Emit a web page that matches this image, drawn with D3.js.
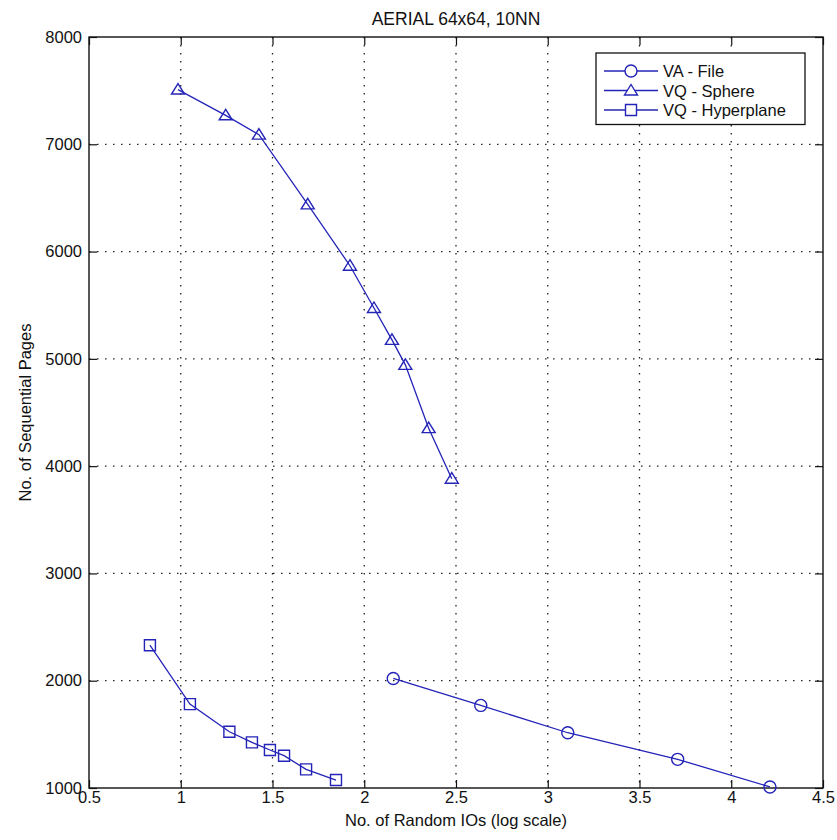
<!DOCTYPE html>
<html>
<head>
<meta charset="utf-8">
<script src="https://cdn.jsdelivr.net/npm/d3@7"></script>
<style>
  body { margin: 0; background: #fff; }
  text { font-family: "Liberation Sans", Arial, sans-serif; fill: #111; }
</style>
</head>
<body>
<div id="chartDiv"></div>
<script>
// AERIAL 64x64, 10NN

// data
var xTicks = [0.5, 1, 1.5, 2, 2.5, 3, 3.5, 4, 4.5];
var yTicks = [1000, 2000, 3000, 4000, 5000, 6000, 7000, 8000];

var vaX = [2.158, 2.635, 3.109, 3.708, 4.211];
var vaY = [2021, 1770, 1515, 1267, 1010];

var sphereX = [0.985, 1.245, 1.426, 1.692, 1.922, 2.053, 2.151, 2.224, 2.351, 2.477];
var sphereY = [7510, 7270, 7090, 6440, 5868, 5474, 5177, 4944, 4354, 3883];

var hyperX = [0.832, 1.050, 1.265, 1.388, 1.486, 1.563, 1.683, 1.846];
var hyperY = [2331, 1782, 1524, 1425, 1354, 1301, 1174, 1074];

var seriesNames = ['VA - File', 'VQ - Sphere', 'VQ - Hyperplane'];
var seriesMarkers = ['circle', 'triangle', 'square'];

(function() {
  // layout
  var chartWidth = 837;
  var chartHeight = 840;
  var pLeft = 89, pRight = 823, pTop = 37, pBottom = 788;
  var blue = '#2424b8';
  var fontSize = 16.5;

  var svg = d3.select('#chartDiv')
              .append('svg')
              .attr('width', chartWidth)
              .attr('height', chartHeight);

  var x = d3.scaleLinear().domain([0.5, 4.5]).range([pLeft, pRight]);
  var y = d3.scaleLinear().domain([1000, 8000]).range([pBottom, pTop]);

  // grid (dotted)
  var grid = svg.append('g');
  grid.selectAll('.vgrid')
      .data(xTicks.slice(1, -1))
      .enter()
      .append('line')
      .attr('x1', function(d) { return x(d); })
      .attr('x2', function(d) { return x(d); })
      .attr('y1', pTop)
      .attr('y2', pBottom)
      .attr('stroke', '#222')
      .attr('stroke-width', 1.3)
      .attr('stroke-dasharray', '1.5 6.5');
  grid.selectAll('.hgrid')
      .data(yTicks.slice(1, -1))
      .enter()
      .append('line')
      .attr('y1', function(d) { return y(d); })
      .attr('y2', function(d) { return y(d); })
      .attr('x1', pLeft)
      .attr('x2', pRight)
      .attr('stroke', '#222')
      .attr('stroke-width', 1.3)
      .attr('stroke-dasharray', '1.5 6.5');

  // axes, ticks pointing inwards on all four sides
  var tickLen = 8;
  var xAxisB = d3.axisBottom(x).tickValues(xTicks).tickSize(-tickLen).tickPadding(3)
                 .tickFormat(function(d) { return String(d); });
  var xAxisT = d3.axisTop(x).tickValues(xTicks).tickSize(-tickLen).tickFormat('');
  var yAxisL = d3.axisLeft(y).tickValues(yTicks).tickSize(-tickLen).tickPadding(7)
                 .tickFormat(function(d) { return String(d); });
  var yAxisR = d3.axisRight(y).tickValues(yTicks).tickSize(-tickLen).tickFormat('');

  function styleAxis(g) {
    g.select('.domain').remove();
    g.selectAll('.tick line').attr('stroke', '#111').attr('stroke-width', 1.2);
    g.selectAll('.tick text').style('font-size', fontSize + 'px')
     .style('font-family', '"Liberation Sans", Arial, sans-serif').attr('fill', '#111');
  }

  svg.append('g').attr('transform', 'translate(0,' + pBottom + ')').call(xAxisB).call(styleAxis);
  svg.append('g').attr('transform', 'translate(0,' + pTop + ')').call(xAxisT).call(styleAxis);
  svg.append('g').attr('transform', 'translate(' + pLeft + ',0)').call(yAxisL).call(styleAxis);
  svg.append('g').attr('transform', 'translate(' + pRight + ',0)').call(yAxisR).call(styleAxis);

  // box
  svg.append('rect')
     .attr('x', pLeft).attr('y', pTop)
     .attr('width', pRight - pLeft).attr('height', pBottom - pTop)
     .attr('fill', 'none').attr('stroke', '#111').attr('stroke-width', 1.4);

  // marker shapes
  function markerPath(kind, cx, cy) {
    if (kind === 'circle') {
      var r = 6;
      return 'M' + (cx - r) + ',' + cy + 'a' + r + ',' + r + ' 0 1,0 ' + (2 * r) + ',0' +
             'a' + r + ',' + r + ' 0 1,0 ' + (-2 * r) + ',0Z';
    }
    if (kind === 'triangle') {
      return 'M' + cx + ',' + (cy - 6) + 'L' + (cx + 6.5) + ',' + (cy + 4.5) +
             'L' + (cx - 6.5) + ',' + (cy + 4.5) + 'Z';
    }
    return 'M' + (cx - 5.5) + ',' + (cy - 5.5) + 'h11v11h-11Z';
  }

  function drawSeries(xs, ys, kind) {
    var pts = xs.map(function(d, i) { return [d, ys[i]]; });
    var line = d3.line()
                 .x(function(d) { return x(d[0]); })
                 .y(function(d) { return y(d[1]); });
    svg.append('path')
       .datum(pts)
       .attr('d', line)
       .attr('fill', 'none')
       .attr('stroke', blue)
       .attr('stroke-width', 1.3);
    svg.selectAll('.m-' + kind)
       .data(pts)
       .enter()
       .append('path')
       .attr('d', function(d) { return markerPath(kind, x(d[0]), y(d[1])); })
       .attr('fill', 'none')
       .attr('stroke', blue)
       .attr('stroke-width', 1.4);
  }

  drawSeries(vaX, vaY, 'circle');
  drawSeries(sphereX, sphereY, 'triangle');
  drawSeries(hyperX, hyperY, 'square');

  // title and axis labels
  svg.append('text')
     .attr('x', (pLeft + pRight) / 2).attr('y', 25)
     .attr('text-anchor', 'middle')
     .style('font-size', '17.5px')
     .text('AERIAL 64x64, 10NN');

  svg.append('text')
     .attr('x', (pLeft + pRight) / 2).attr('y', 826)
     .attr('text-anchor', 'middle')
     .style('font-size', fontSize + 'px')
     .text('No. of Random IOs (log scale)');

  svg.append('text')
     .attr('transform', 'translate(31,' + ((pTop + pBottom) / 2) + ') rotate(-90)')
     .attr('text-anchor', 'middle')
     .style('font-size', fontSize + 'px')
     .text('No. of Sequential Pages');

  // legend
  var lg = svg.append('g');
  var lgLeft = 596, lgTop = 53, lgW = 209, rowH = 19.5;
  lg.append('rect')
    .attr('x', lgLeft).attr('y', lgTop)
    .attr('width', lgW).attr('height', 18 + rowH * 3 - 5)
    .attr('fill', '#fff').attr('stroke', '#111').attr('stroke-width', 1.3);
  seriesNames.forEach(function(name, i) {
    var cy = lgTop + 18 + i * rowH;
    lg.append('line')
      .attr('x1', lgLeft + 8).attr('x2', lgLeft + 62)
      .attr('y1', cy).attr('y2', cy)
      .attr('stroke', blue).attr('stroke-width', 1.3);
    lg.append('path')
      .attr('d', markerPath(seriesMarkers[i], lgLeft + 35, cy))
      .attr('fill', '#fff')
      .attr('stroke', blue).attr('stroke-width', 1.4);
    lg.append('text')
      .attr('x', lgLeft + 67).attr('y', cy + 6)
      .style('font-size', fontSize + 'px')
      .text(name);
  });
})();
</script>
</body>
</html>
